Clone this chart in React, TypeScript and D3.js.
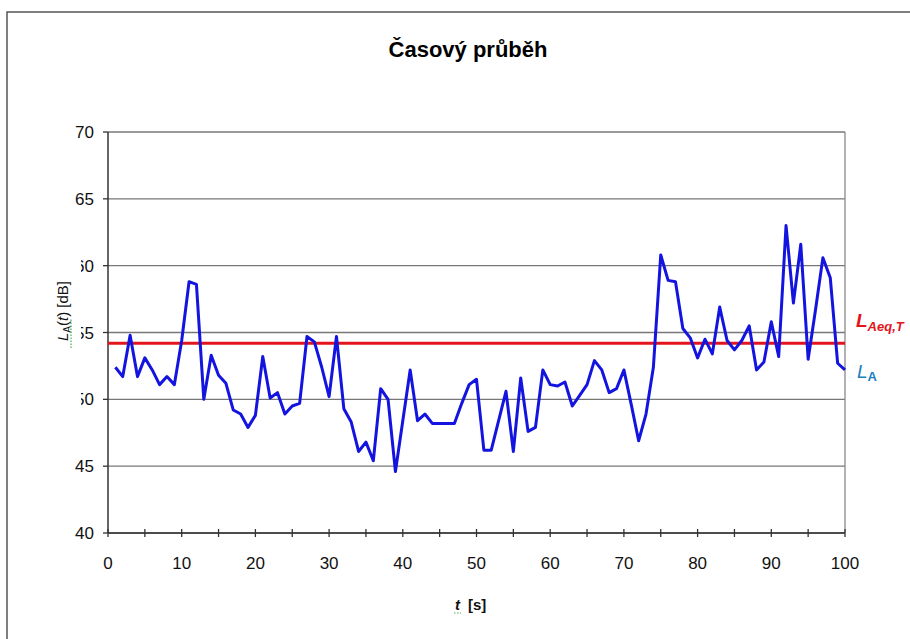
import React from 'react';
import * as d3 from 'd3';

const TITLE = 'Časový průběh';
const TIME_S = d3.range(1, 101);
const LEVEL_DB = [
  52.4, 51.7, 54.8, 51.7, 53.1, 52.2, 51.1, 51.7, 51.1, 54.4,
  58.8, 58.6, 50.0, 53.3, 51.8, 51.2, 49.2, 48.9, 47.9, 48.8,
  53.2, 50.1, 50.5, 48.9, 49.5, 49.7, 54.7, 54.3, 52.4, 50.2,
  54.7, 49.3, 48.3, 46.1, 46.8, 45.4, 50.8, 50.0, 44.6, 48.4,
  52.2, 48.4, 48.9, 48.2, 48.2, 48.2, 48.2, 49.7, 51.1, 51.5,
  46.2, 46.2, 48.4, 50.6, 46.1, 51.6, 47.6, 47.9, 52.2, 51.1,
  51.0, 51.3, 49.5, 50.3, 51.1, 52.9, 52.2, 50.5, 50.8, 52.2,
  49.6, 46.9, 48.9, 52.4, 60.8, 58.9, 58.8, 55.3, 54.6, 53.1,
  54.5, 53.4, 56.9, 54.4, 53.7, 54.4, 55.5, 52.2, 52.8, 55.8,
  53.2, 63.0, 57.2, 61.6, 53.0, 56.7, 60.6, 59.1, 52.7, 52.2,
];
const LAEQ = 54.2;
const X_TICKS = [0, 10, 20, 30, 40, 50, 60, 70, 80, 90, 100];
const X_MINOR = d3.range(0, 101, 5);
const Y_TICKS = [40, 45, 50, 55, 60, 65, 70];

const FONT = '"Liberation Sans", Arial, sans-serif';

export default function App() {
  const W = 910;
  const H = 639;
  const m = { l: 108, r: 845, t: 132, b: 533 };

  const x = d3.scaleLinear().domain([0, 100]).range([m.l, m.r]);
  const y = d3.scaleLinear().domain([40, 70]).range([m.b, m.t]);

  const line = d3
    .line<number>()
    .x((_, i) => x(TIME_S[i]))
    .y((d) => y(d));

  return (
    <svg
      width={W}
      height={H}
      style={{ position: 'absolute', left: 0, top: 0, background: '#fff' }}
      fontFamily={FONT}
    >
      <rect x={0} y={0} width={W} height={H} fill="#fff" />
      {/* outer chart frame */}
      <rect x={7} y={12} width={W + 20} height={H + 20} fill="none" stroke="#555" strokeWidth={1.5} />

      <text x={468} y={57} textAnchor="middle" fontSize={22} fontWeight="bold" fill="#000">
        {TITLE}
      </text>

      {/* gridlines */}
      {Y_TICKS.map((t) => (
        <line key={'g' + t} x1={m.l} x2={m.r} y1={y(t)} y2={y(t)} stroke="#777" strokeWidth={1.3} />
      ))}
      <line x1={m.r} x2={m.r} y1={m.t} y2={m.b} stroke="#888" strokeWidth={1.3} />

      {/* y axis */}
      <line x1={m.l} x2={m.l} y1={m.t} y2={m.b} stroke="#333" strokeWidth={1.5} />
      {Y_TICKS.map((t) => (
        <g key={'y' + t}>
          <line x1={m.l - 5} x2={m.l} y1={y(t)} y2={y(t)} stroke="#333" strokeWidth={1.3} />
          <text x={94} y={y(t)} dy="0.36em" textAnchor="end" fontSize={17} fill="#111">
            {t}
          </text>
        </g>
      ))}

      {/* x axis */}
      <line x1={m.l} x2={m.r} y1={m.b} y2={m.b} stroke="#333" strokeWidth={1.5} />
      {X_MINOR.map((t) => (
        <line key={'xm' + t} x1={x(t)} x2={x(t)} y1={m.b - 4} y2={m.b + 4} stroke="#333" strokeWidth={1.3} />
      ))}
      {X_TICKS.map((t) => (
        <text key={'x' + t} x={x(t)} y={569} textAnchor="middle" fontSize={17} fill="#111">
          {t}
        </text>
      ))}

      {/* y axis title with its white box */}
      <rect x={48} y={255} width={33} height={150} fill="#fff" />
      <g transform="translate(68,311) rotate(-90)">
        <text x={0} y={0} textAnchor="middle" fontSize={15} fill="#111">
          <tspan fontStyle="italic">L</tspan>
          <tspan fontSize={10} dy={3}>A</tspan>
          <tspan dy={-3}>(</tspan>
          <tspan fontStyle="italic">t</tspan>
          <tspan>) [dB]</tspan>
        </text>
        <line x1={-37} x2={-8} y1={3} y2={3} stroke="#4caf50" strokeWidth={1.2} strokeDasharray="1.5 1.5" />
      </g>

      {/* x axis title */}
      <text x={455} y={610} fontSize={15} fontWeight="bold" fill="#111">
        <tspan fontStyle="italic">t</tspan>
        <tspan dx={8}>[s]</tspan>
      </text>
      <line x1={454} x2={461} y1={613} y2={613} stroke="#4caf50" strokeWidth={1.2} strokeDasharray="1.5 1.5" />

      {/* LAeq,T line */}
      <line x1={m.l} x2={m.r} y1={y(LAEQ)} y2={y(LAEQ)} stroke="#e3141b" strokeWidth={3} />

      {/* LA(t) series */}
      <path d={line(LEVEL_DB) || ''} fill="none" stroke="#1414e0" strokeWidth={3} strokeLinejoin="round" />

      {/* labels on the right */}
      <text x={856} y={327} fontSize={19} fontWeight="bold" fontStyle="italic" fill="#e3141b">
        L<tspan fontSize={13} dy={4}>Aeq,T</tspan>
      </text>
      <text x={857} y={378} fontSize={19} fontStyle="italic" fill="#1a7fc0">
        L<tspan fontSize={13} dy={3} fontStyle="normal" fontWeight="bold">A</tspan>
      </text>
    </svg>
  );
}
